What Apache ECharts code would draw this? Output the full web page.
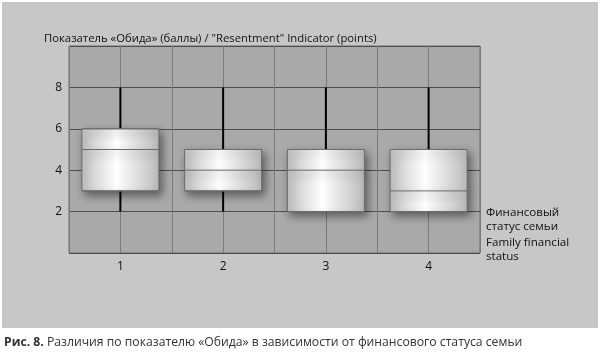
<!DOCTYPE html>
<html><head><meta charset="utf-8">
<script src="https://cdn.jsdelivr.net/npm/echarts@6/dist/echarts.min.js"></script>
<style>html,body{margin:0;padding:0;background:#fff}#c{width:600px;height:354px}</style>
</head><body><div id="c"></div>
<script>
const categories = ['1', '2', '3', '4'];
const minVals = [2, 2, 2, 2];
const q1Vals = [3, 3, 2, 2];
const medianVals = [5, 4, 4, 3];
const q3Vals = [6, 5, 5, 5];
const maxVals = [8, 8, 8, 8];
const yTicks = [2, 4, 6, 8];

const FONT = '"Open Sans", "Noto Sans", sans-serif';
const chart = echarts.init(document.getElementById('c'), null, {renderer: 'canvas'});

const boxData = categories.map((c, i) => [q1Vals[i], q1Vals[i], medianVals[i], q3Vals[i], q3Vals[i]]);
const whiskerData = categories.map((c, i) => [i, minVals[i], q1Vals[i], q3Vals[i], maxVals[i]]);

const option = {
  backgroundColor: '#ffffff',
  animation: false,
  graphic: [
    {type: 'rect', shape: {x: 2, y: 2, width: 596, height: 326}, style: {fill: '#c7c7c7'}, z: -10, silent: true},
    {type: 'text', x: 44, y: 33, style: {text: 'Показатель «Обида» (баллы) / "Resentment" Indicator (points)', font: '11.3px ' + FONT, fill: '#111'}},
    {type: 'text', x: 486, y: 206, style: {text: 'Финансовый\nстатус семьи', font: '11.6px ' + FONT, fill: '#111', lineHeight: 14}},
    {type: 'text', x: 486, y: 236, style: {text: 'Family financial\nstatus', font: '11.6px ' + FONT, fill: '#111', lineHeight: 14}},
    {type: 'text', x: 4, y: 337, style: {
      text: '{b|Рис. 8.} Различия по показателю «Обида» в зависимости от финансового статуса семьи',
      font: '12.2px ' + FONT, fill: '#333',
      rich: {b: {fontWeight: 'bold', fontSize: 12.2, fontFamily: FONT, fill: '#333'}}
    }}
  ],
  grid: {left: 69, right: 120, top: 46, bottom: 101, show: true, backgroundColor: '#a9a9a9', borderColor: '#6a6a6a', borderWidth: 1},
  xAxis: [
    {type: 'category', data: categories, boundaryGap: true,
     axisLine: {show: false}, axisTick: {show: false},
     axisLabel: {color: '#111', fontFamily: FONT, fontSize: 12, margin: 8},
     splitLine: {show: false}},
    {type: 'value', min: 0, max: 8, interval: 1, show: true, position: 'bottom',
     axisLine: {show: false}, axisTick: {show: false}, axisLabel: {show: false},
     splitLine: {show: true, lineStyle: {color: '#7a7a7a', width: 1}}}
  ],
  yAxis: {type: 'value', min: 0, max: 10, interval: 2,
    axisLine: {show: false}, axisTick: {show: false},
    axisLabel: {color: '#111', fontFamily: FONT, fontSize: 12, margin: 7,
      formatter: v => yTicks.indexOf(v) >= 0 ? String(v) : ''},
    splitLine: {show: true, lineStyle: {color: '#4e4e4e', width: 1}}},
  series: [
    {type: 'custom', xAxisIndex: 0, data: whiskerData, z: 2,
     renderItem: function (params, api) {
       const x = api.value(0);
       const pMin = api.coord([x, api.value(1)]);
       const pQ1 = api.coord([x, api.value(2)]);
       const pQ3 = api.coord([x, api.value(3)]);
       const pMax = api.coord([x, api.value(4)]);
       const st = {stroke: '#000', lineWidth: 2};
       return {type: 'group', children: [
         {type: 'line', shape: {x1: pMin[0], y1: pMin[1], x2: pQ1[0], y2: pQ1[1]}, style: st},
         {type: 'line', shape: {x1: pQ3[0], y1: pQ3[1], x2: pMax[0], y2: pMax[1]}, style: st}
       ]};
     }},
    {type: 'boxplot', xAxisIndex: 0, data: boxData, boxWidth: [77, 77], z: 3,
     itemStyle: {
       color: new echarts.graphic.LinearGradient(0, 0, 1, 0, [
         {offset: 0, color: '#c2c2c2'},
         {offset: 0.45, color: '#ffffff'},
         {offset: 1, color: '#bbbbbb'}
       ]),
       borderColor: '#6c6c6c', borderWidth: 1,
       shadowBlur: 8, shadowColor: 'rgba(0,0,0,0.45)', shadowOffsetX: 3, shadowOffsetY: 4
     }}
  ]
};
chart.setOption(option);
</script></body></html>
